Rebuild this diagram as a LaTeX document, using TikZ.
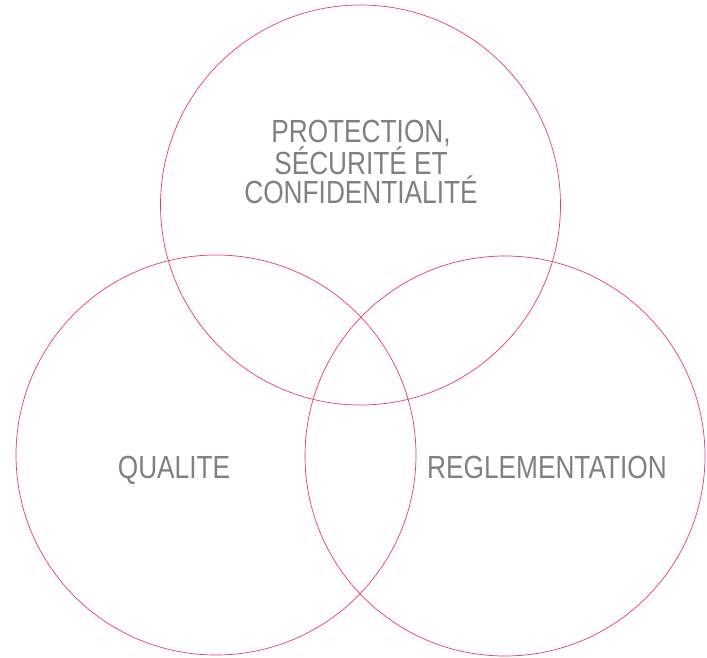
\documentclass[tikz,border=0pt]{standalone}
\usepackage{fontspec}
\setmainfont{Liberation Sans}[FakeStretch=0.82]
\definecolor{ring}{RGB}{232,62,95}
\definecolor{txt}{RGB}{128,128,128}
\begin{document}
\begin{tikzpicture}[x=1pt,y=-1pt,
  ring/.style={draw=ring,line width=0.7pt},
  lbl/.style={text=txt,font=\fontsize{32}{29}\selectfont,align=center,anchor=base,inner sep=0pt}]
\useasboundingbox (0,0) rectangle (707,658);
\draw[ring] (360.5,205) circle[radius=200];
\draw[ring] (216,455) circle[radius=200];
\draw[ring] (505,456) circle[radius=200];
\node[lbl] (top) at (361,204) {PROTECTION,\\SÉCURITÉ ET\\CONFIDENTIALITÉ};
\node[lbl] (q) at (174,478) {QUALITE};
\node[lbl] (r) at (547,478) {REGLEMENTATION};
\end{tikzpicture}
\end{document}
